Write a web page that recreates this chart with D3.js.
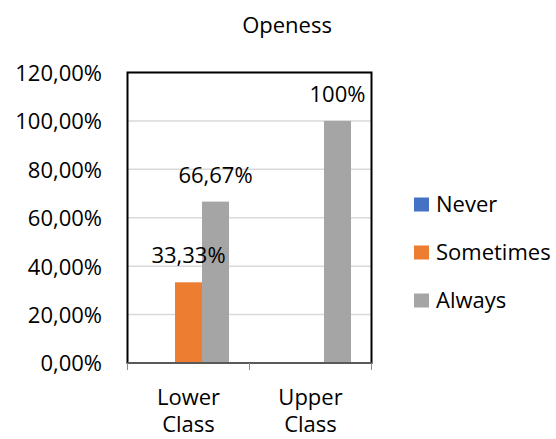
<!DOCTYPE html>
<html>
<head>
<meta charset="utf-8">
<script src="https://cdn.jsdelivr.net/npm/d3@7"></script>
<style>
  body { margin: 0; background: #fff; }
  text { font-family: "Open Sans", "Noto Sans", sans-serif; fill: #000; }
</style>
</head>
<body>
<div id="chart"></div>
<script>
// chart data
const categories = [['Lower', 'Class'], ['Upper', 'Class']];
const seriesNames = ['Never', 'Sometimes', 'Always'];
const seriesColors = ['#4472C4', '#ED7D31', '#A5A5A5'];
const never = [0, 0];
const sometimes = [0.3333, 0];
const always = [0.6667, 1];
const pointLabels = [['', '33,33%', '66,67%'], ['', '', '100%']];
const yTicks = [0, 0.2, 0.4, 0.6, 0.8, 1.0, 1.2];

const width = 556, height = 439;
const plot = { left: 127.5, top: 72.5, right: 371.5, bottom: 363 };
const fontSize = '22px';

const svg = d3.select('#chart').append('svg').attr('width', width).attr('height', height);

const x = d3.scaleBand().domain([0, 1]).range([plot.left, plot.right]);
const inner = d3.scaleBand().domain([0, 1, 2]).range([0, x.bandwidth()]).paddingOuter(0.76);
const y = d3.scaleLinear().domain([0, 1.2]).range([plot.bottom, plot.top]);

// gridlines
svg.append('g')
  .selectAll('line')
  .data(yTicks.slice(1))
  .enter()
  .append('line')
  .attr('x1', plot.left).attr('x2', plot.right)
  .attr('y1', d => y(d)).attr('y2', d => y(d))
  .style('stroke', '#D9D9D9')
  .style('stroke-width', 1.5);

// y tick labels
const fmt = v => d3.format('.2f')(v * 100).replace('.', ',') + '%';
svg.append('g')
  .selectAll('text')
  .data(yTicks)
  .enter()
  .append('text')
  .attr('x', 102)
  .attr('y', d => y(d))
  .attr('dy', '0.38em')
  .attr('text-anchor', 'end')
  .style('font-size', fontSize)
  .text(fmt);

// bars
const values = [never, sometimes, always];
const cells = [];
categories.forEach((c, i) => {
  values.forEach((s, j) => cells.push({ cat: i, ser: j, v: s[i], label: pointLabels[i][j] }));
});

svg.append('g')
  .selectAll('rect')
  .data(cells.filter(d => d.v > 0))
  .enter()
  .append('rect')
  .attr('x', d => x(d.cat) + inner(d.ser))
  .attr('width', inner.bandwidth())
  .attr('y', d => y(d.v))
  .attr('height', d => y(0) - y(d.v))
  .style('fill', d => seriesColors[d.ser]);

svg.append('g')
  .selectAll('text')
  .data(cells.filter(d => d.label))
  .enter()
  .append('text')
  .attr('x', d => x(d.cat) + inner(d.ser) + inner.bandwidth() / 2)
  .attr('y', d => y(d.v) - 19)
  .attr('text-anchor', 'middle')
  .style('font-size', fontSize)
  .text(d => d.label);

// frame
svg.append('rect')
  .attr('x', plot.left).attr('y', plot.top)
  .attr('width', plot.right - plot.left)
  .attr('height', plot.bottom - plot.top)
  .style('fill', 'none')
  .style('stroke', '#000')
  .style('stroke-width', 2);

// x axis
svg.append('line')
  .attr('x1', plot.left).attr('x2', plot.right)
  .attr('y1', plot.bottom).attr('y2', plot.bottom)
  .style('stroke', '#595959').style('stroke-width', 2);

const tickXs = [plot.left, x(1), plot.right];
svg.append('g')
  .selectAll('line')
  .data(tickXs)
  .enter()
  .append('line')
  .attr('x1', d => d).attr('x2', d => d)
  .attr('y1', plot.bottom).attr('y2', plot.bottom + 7)
  .style('stroke', '#8C8C8C').style('stroke-width', 1);

// category labels, two lines each
categories.forEach((lines, i) => {
  svg.append('g')
    .selectAll('text')
    .data(lines)
    .enter()
    .append('text')
    .attr('x', x(i) + x.bandwidth() / 2)
    .attr('y', (d, k) => 404.5 + k * 27.5)
    .attr('text-anchor', 'middle')
    .style('font-size', fontSize)
    .text(d => d);
});

// title
svg.append('text')
  .attr('x', 287).attr('y', 33)
  .attr('text-anchor', 'middle')
  .style('font-size', fontSize)
  .text('Openess');

// legend
const legend = svg.append('g')
  .selectAll('g')
  .data(seriesNames)
  .enter()
  .append('g')
  .attr('transform', (d, i) => `translate(414, ${204.5 + i * 48})`);
legend.append('rect')
  .attr('x', 0).attr('y', -7)
  .attr('width', 15).attr('height', 14)
  .style('fill', (d, i) => seriesColors[i]);
legend.append('text')
  .attr('x', 22).attr('y', 0)
  .attr('dy', '0.36em')
  .style('font-size', fontSize)
  .text(d => d);
</script>
</body>
</html>
